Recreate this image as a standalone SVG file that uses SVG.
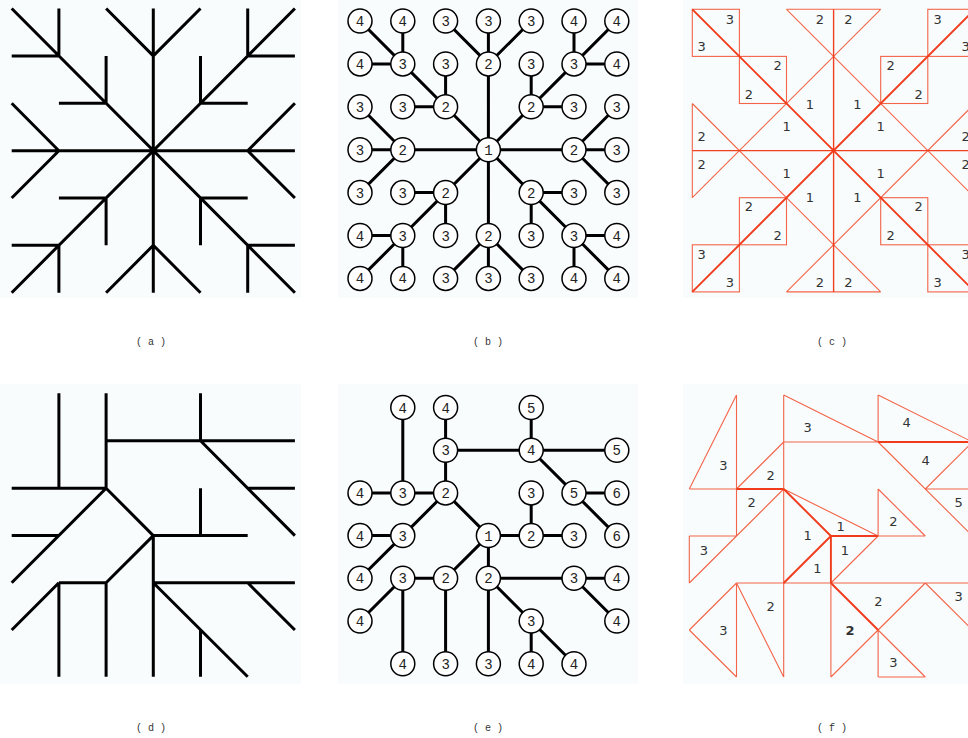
<svg xmlns="http://www.w3.org/2000/svg" width="968" height="738" viewBox="0 0 968 738">
<style>
.bg{fill:#f8fcfd}
.k{stroke:#000;stroke-width:3;fill:none;stroke-linecap:butt}
.n circle{fill:#fff;stroke:#000;stroke-width:1.5}
.n text{font-family:"Liberation Mono","DejaVu Sans Mono",monospace;font-size:14px;text-anchor:middle;fill:#222}
.t{stroke:#f03c1c;stroke-width:1.9;fill:none}
.m{stroke:#f0401f;stroke-width:1.4;fill:none}
.h{stroke:#f36448;stroke-width:1.1;fill:none}
.lb text{font-family:"DejaVu Sans","Liberation Sans",sans-serif;font-size:13px;text-anchor:middle;fill:#333}
.cap{font-family:"Liberation Mono","DejaVu Sans Mono",monospace;font-size:10px;text-anchor:middle;fill:#333}
</style>
<rect width="968" height="738" fill="#fff"/>
<rect class="bg" x="0" y="0" width="301" height="298"/>
<rect class="bg" x="338" y="0" width="300" height="298"/>
<rect class="bg" x="683" y="0" width="285" height="298"/>
<rect class="bg" x="0" y="384" width="301" height="300"/>
<rect class="bg" x="338" y="384" width="300" height="300"/>
<rect class="bg" x="683" y="384" width="285" height="300"/>

<g id="panel-a-connectors" class="k">
<path d="M11.7,8.5L294.9,292.7M294.9,8.5L11.7,292.7M153.3,8.5V292.7M11.7,150.7H294.9
M58.9,8.5V55.9M11.7,55.9H58.9M106.1,55.9V103.3M58.9,103.3H106.1
M106.1,8.5L153.3,55.9M200.5,8.5L153.3,55.9
M247.7,8.5V55.9M247.7,55.9H294.9M200.5,55.9V103.3M200.5,103.3H247.7
M11.7,103.3L58.9,150.7M11.7,198L58.9,150.7
M294.9,103.3L247.7,150.7M294.9,198L247.7,150.7
M58.9,198H106.1M106.1,198V245.3M11.7,245.3H58.9M58.9,245.3V292.7
M106.1,292.7L153.3,245.3M200.5,292.7L153.3,245.3
M200.5,198H247.7M200.5,198V245.3M247.7,245.3H294.9M247.7,245.3V292.7"/>
</g>

<g id="panel-b-connectors" class="k">
<path d="M360,21L402.8,63.9M402.8,21V63.9M360,63.9H402.8M402.8,63.9L445.6,106.8M445.6,63.9V106.8M402.8,106.8H445.6M445.6,106.8L488.4,149.7
M445.6,21L488.4,63.9M488.4,21V149.7M531.2,21L488.4,63.9
M574,21V63.9M616.8,21L574,63.9M616.8,63.9H574M574,63.9L531.2,106.8M531.2,63.9V106.8M574,106.8H531.2M531.2,106.8L488.4,149.7
M360,106.8L402.8,149.7M360,149.7H616.8M360,192.6L402.8,149.7
M616.8,106.8L574,149.7M616.8,192.6L574,149.7
M402.8,192.6H445.6M445.6,192.6V235.5M445.6,192.6L402.8,235.5M360,235.5H402.8M402.8,235.5V278.4M402.8,235.5L360,278.4M445.6,192.6L488.4,149.7
M488.4,149.7V278.4M488.4,235.5L445.6,278.4M488.4,235.5L531.2,278.4
M488.4,149.7L531.2,192.6M531.2,192.6H574M531.2,192.6V235.5M531.2,192.6L574,235.5M574,235.5H616.8M574,235.5V278.4M574,235.5L616.8,278.4"/>
</g>
<g id="panel-b-nodes" class="n">
<g id="b00"><circle cx="360" cy="21" r="12"/><text x="360" y="26">4</text></g>
<g id="b10"><circle cx="402.8" cy="21" r="12"/><text x="402.8" y="26">4</text></g>
<g id="b20"><circle cx="445.6" cy="21" r="12"/><text x="445.6" y="26">3</text></g>
<g id="b30"><circle cx="488.4" cy="21" r="12"/><text x="488.4" y="26">3</text></g>
<g id="b40"><circle cx="531.2" cy="21" r="12"/><text x="531.2" y="26">3</text></g>
<g id="b50"><circle cx="574" cy="21" r="12"/><text x="574" y="26">4</text></g>
<g id="b60"><circle cx="616.8" cy="21" r="12"/><text x="616.8" y="26">4</text></g>
<g id="b01"><circle cx="360" cy="63.9" r="12"/><text x="360" y="68.9">4</text></g>
<g id="b11"><circle cx="402.8" cy="63.9" r="12"/><text x="402.8" y="68.9">3</text></g>
<g id="b21"><circle cx="445.6" cy="63.9" r="12"/><text x="445.6" y="68.9">3</text></g>
<g id="b31"><circle cx="488.4" cy="63.9" r="12"/><text x="488.4" y="68.9">2</text></g>
<g id="b41"><circle cx="531.2" cy="63.9" r="12"/><text x="531.2" y="68.9">3</text></g>
<g id="b51"><circle cx="574" cy="63.9" r="12"/><text x="574" y="68.9">3</text></g>
<g id="b61"><circle cx="616.8" cy="63.9" r="12"/><text x="616.8" y="68.9">4</text></g>
<g id="b02"><circle cx="360" cy="106.8" r="12"/><text x="360" y="111.8">3</text></g>
<g id="b12"><circle cx="402.8" cy="106.8" r="12"/><text x="402.8" y="111.8">3</text></g>
<g id="b22"><circle cx="445.6" cy="106.8" r="12"/><text x="445.6" y="111.8">2</text></g>
<g id="b42"><circle cx="531.2" cy="106.8" r="12"/><text x="531.2" y="111.8">2</text></g>
<g id="b52"><circle cx="574" cy="106.8" r="12"/><text x="574" y="111.8">3</text></g>
<g id="b62"><circle cx="616.8" cy="106.8" r="12"/><text x="616.8" y="111.8">3</text></g>
<g id="b03"><circle cx="360" cy="149.7" r="12"/><text x="360" y="154.7">3</text></g>
<g id="b13"><circle cx="402.8" cy="149.7" r="12"/><text x="402.8" y="154.7">2</text></g>
<g id="b33"><circle cx="488.4" cy="149.7" r="12"/><text x="488.4" y="154.7">1</text></g>
<g id="b53"><circle cx="574" cy="149.7" r="12"/><text x="574" y="154.7">2</text></g>
<g id="b63"><circle cx="616.8" cy="149.7" r="12"/><text x="616.8" y="154.7">3</text></g>
<g id="b04"><circle cx="360" cy="192.6" r="12"/><text x="360" y="197.6">3</text></g>
<g id="b14"><circle cx="402.8" cy="192.6" r="12"/><text x="402.8" y="197.6">3</text></g>
<g id="b24"><circle cx="445.6" cy="192.6" r="12"/><text x="445.6" y="197.6">2</text></g>
<g id="b44"><circle cx="531.2" cy="192.6" r="12"/><text x="531.2" y="197.6">2</text></g>
<g id="b54"><circle cx="574" cy="192.6" r="12"/><text x="574" y="197.6">3</text></g>
<g id="b64"><circle cx="616.8" cy="192.6" r="12"/><text x="616.8" y="197.6">3</text></g>
<g id="b05"><circle cx="360" cy="235.5" r="12"/><text x="360" y="240.5">4</text></g>
<g id="b15"><circle cx="402.8" cy="235.5" r="12"/><text x="402.8" y="240.5">3</text></g>
<g id="b25"><circle cx="445.6" cy="235.5" r="12"/><text x="445.6" y="240.5">3</text></g>
<g id="b35"><circle cx="488.4" cy="235.5" r="12"/><text x="488.4" y="240.5">2</text></g>
<g id="b45"><circle cx="531.2" cy="235.5" r="12"/><text x="531.2" y="240.5">3</text></g>
<g id="b55"><circle cx="574" cy="235.5" r="12"/><text x="574" y="240.5">3</text></g>
<g id="b65"><circle cx="616.8" cy="235.5" r="12"/><text x="616.8" y="240.5">4</text></g>
<g id="b06"><circle cx="360" cy="278.4" r="12"/><text x="360" y="283.4">4</text></g>
<g id="b16"><circle cx="402.8" cy="278.4" r="12"/><text x="402.8" y="283.4">4</text></g>
<g id="b26"><circle cx="445.6" cy="278.4" r="12"/><text x="445.6" y="283.4">3</text></g>
<g id="b36"><circle cx="488.4" cy="278.4" r="12"/><text x="488.4" y="283.4">3</text></g>
<g id="b46"><circle cx="531.2" cy="278.4" r="12"/><text x="531.2" y="283.4">3</text></g>
<g id="b56"><circle cx="574" cy="278.4" r="12"/><text x="574" y="283.4">4</text></g>
<g id="b66"><circle cx="616.8" cy="278.4" r="12"/><text x="616.8" y="283.4">4</text></g>
</g>

<g id="panel-c">
<path class="h" d="M692.3,197.7L880.7,9.3M786.5,9.3L974.9,197.7M692.3,103.5L880.7,291.9M786.5,291.9L974.9,103.5
M786.5,9.3H880.7M786.5,291.9H880.7M692.3,103.5V197.7M974.9,103.5V197.7"/>
<g class="h">
<rect x="692.3" y="9.3" width="47.1" height="47.1"/>
<rect x="739.4" y="56.4" width="47.1" height="47.1"/>
<rect x="880.7" y="56.4" width="47.1" height="47.1"/>
<rect x="927.8" y="9.3" width="47.1" height="47.1"/>
<rect x="739.4" y="197.7" width="47.1" height="47.1"/>
<rect x="692.3" y="244.8" width="47.1" height="47.1"/>
<rect x="880.7" y="197.7" width="47.1" height="47.1"/>
<rect x="927.8" y="244.8" width="47.1" height="47.1"/>
</g>
<path class="m" d="M692.3,150.6H974.9M833.6,9.3V291.9"/>
<path class="t" d="M692.3,9.3L974.9,291.9M974.9,9.3L692.3,291.9"/>
<g class="lb">
<text x="730" y="23.5">3</text><text x="701.7" y="51.2">3</text>
<text x="777.7" y="70.2">2</text><text x="749" y="98.5">2</text>
<text x="820" y="23.5">2</text><text x="848.3" y="23.5">2</text>
<text x="890.7" y="70.2">2</text><text x="918.7" y="98.5">2</text>
<text x="937.7" y="23.5">3</text><text x="965.7" y="51.2">3</text>
<text x="810" y="108.5">1</text><text x="857.3" y="108.5">1</text>
<text x="786.7" y="131.2">1</text><text x="880.7" y="131.2">1</text>
<text x="701.7" y="140.5">2</text><text x="701.7" y="168.8">2</text>
<text x="965.7" y="140.5">2</text><text x="965.7" y="168.8">2</text>
<text x="786.7" y="177.8">1</text><text x="880.7" y="177.8">1</text>
<text x="810" y="202.2">1</text><text x="857.3" y="202.2">1</text>
<text x="749" y="211.2">2</text><text x="777.7" y="239.8">2</text>
<text x="918.7" y="211.2">2</text><text x="890.7" y="239.8">2</text>
<text x="701.7" y="258.5">3</text><text x="730" y="287.2">3</text>
<text x="820" y="287.2">2</text><text x="848.3" y="287.2">2</text>
<text x="937.7" y="287.2">3</text><text x="965.7" y="258.5">3</text>
</g>
</g>

<g id="panel-d-connectors" class="k">
<path d="M58.9,393.3V488.2M106.1,393.3V488.2M200.5,393.3V440.8M106.1,440.8H294.9M200.5,440.8L294.9,535.6M247.7,488.2H294.9
M11.7,488.2H106.1M106.1,488.2L11.7,582.8M106.1,488.2L153.3,535.6M11.7,535.6H58.9M153.3,535.6H247.7M200.5,488.2V535.6
M153.3,535.6L106.1,582.8M58.9,582.8H106.1M58.9,582.8L11.7,630M58.9,582.8V676.8M106.1,582.8V676.8
M153.3,535.6V676.8M153.3,582.8H294.9M247.7,582.8L294.9,630M153.3,582.8L247.7,676.8M200.5,630V676.8"/>
</g>

<g id="panel-e-connectors" class="k">
<path d="M402.8,407.5V492.9M445.6,407.5V492.9M445.6,450.2H616.8M531.2,407.5V450.2M531.2,450.2L574,492.9M574,492.9H616.8M574,492.9L616.8,535.6
M360,492.9H445.6M445.6,492.9L402.8,535.6M445.6,492.9L488.4,535.6M360,535.6H402.8M402.8,535.6L360,578.3
M488.4,535.6H574M531.2,492.9V535.6M488.4,535.6L445.6,578.3M445.6,578.3H402.8M402.8,578.3L360,621M402.8,578.3V663.7M445.6,578.3V663.7
M488.4,535.6V663.7M488.4,578.3H616.8M574,578.3L616.8,621M488.4,578.3L531.2,621M531.2,621V663.7M531.2,621L574,663.7"/>
</g>
<g id="panel-e-nodes" class="n">
<g id="e10"><circle cx="402.8" cy="407.5" r="12"/><text x="402.8" y="412.5">4</text></g>
<g id="e20"><circle cx="445.6" cy="407.5" r="12"/><text x="445.6" y="412.5">4</text></g>
<g id="e40"><circle cx="531.2" cy="407.5" r="12"/><text x="531.2" y="412.5">5</text></g>
<g id="e21"><circle cx="445.6" cy="450.2" r="12"/><text x="445.6" y="455.2">3</text></g>
<g id="e41"><circle cx="531.2" cy="450.2" r="12"/><text x="531.2" y="455.2">4</text></g>
<g id="e61"><circle cx="616.8" cy="450.2" r="12"/><text x="616.8" y="455.2">5</text></g>
<g id="e02"><circle cx="360" cy="492.9" r="12"/><text x="360" y="497.9">4</text></g>
<g id="e12"><circle cx="402.8" cy="492.9" r="12"/><text x="402.8" y="497.9">3</text></g>
<g id="e22"><circle cx="445.6" cy="492.9" r="12"/><text x="445.6" y="497.9">2</text></g>
<g id="e42"><circle cx="531.2" cy="492.9" r="12"/><text x="531.2" y="497.9">3</text></g>
<g id="e52"><circle cx="574" cy="492.9" r="12"/><text x="574" y="497.9">5</text></g>
<g id="e62"><circle cx="616.8" cy="492.9" r="12"/><text x="616.8" y="497.9">6</text></g>
<g id="e03"><circle cx="360" cy="535.6" r="12"/><text x="360" y="540.6">4</text></g>
<g id="e13"><circle cx="402.8" cy="535.6" r="12"/><text x="402.8" y="540.6">3</text></g>
<g id="e33"><circle cx="488.4" cy="535.6" r="12"/><text x="488.4" y="540.6">1</text></g>
<g id="e43"><circle cx="531.2" cy="535.6" r="12"/><text x="531.2" y="540.6">2</text></g>
<g id="e53"><circle cx="574" cy="535.6" r="12"/><text x="574" y="540.6">3</text></g>
<g id="e63"><circle cx="616.8" cy="535.6" r="12"/><text x="616.8" y="540.6">6</text></g>
<g id="e04"><circle cx="360" cy="578.3" r="12"/><text x="360" y="583.3">4</text></g>
<g id="e14"><circle cx="402.8" cy="578.3" r="12"/><text x="402.8" y="583.3">3</text></g>
<g id="e24"><circle cx="445.6" cy="578.3" r="12"/><text x="445.6" y="583.3">2</text></g>
<g id="e34"><circle cx="488.4" cy="578.3" r="12"/><text x="488.4" y="583.3">2</text></g>
<g id="e54"><circle cx="574" cy="578.3" r="12"/><text x="574" y="583.3">3</text></g>
<g id="e64"><circle cx="616.8" cy="578.3" r="12"/><text x="616.8" y="583.3">4</text></g>
<g id="e05"><circle cx="360" cy="621" r="12"/><text x="360" y="626">4</text></g>
<g id="e45"><circle cx="531.2" cy="621" r="12"/><text x="531.2" y="626">3</text></g>
<g id="e65"><circle cx="616.8" cy="621" r="12"/><text x="616.8" y="626">4</text></g>
<g id="e16"><circle cx="402.8" cy="663.7" r="12"/><text x="402.8" y="668.7">4</text></g>
<g id="e26"><circle cx="445.6" cy="663.7" r="12"/><text x="445.6" y="668.7">3</text></g>
<g id="e36"><circle cx="488.4" cy="663.7" r="12"/><text x="488.4" y="668.7">3</text></g>
<g id="e46"><circle cx="531.2" cy="663.7" r="12"/><text x="531.2" y="668.7">4</text></g>
<g id="e56"><circle cx="574" cy="663.7" r="12"/><text x="574" y="668.7">4</text></g>
</g>

<g id="panel-f">
<path class="h" d="M736.5,395L689.3,489M736.5,395V536M689.3,489H736.5M783.7,395L878.1,442M783.7,395V677M783.7,442H878.1
M878.1,395V442M878.1,395L972.5,442M878.1,442L972.5,536M925.3,489L972.5,442M925.3,489H972.5
M783.7,442L736.5,489M783.7,489L736.5,536M689.3,536H736.5M736.5,536L689.3,583M689.3,536V583
M783.7,489L878.1,536M878.1,536L830.9,583M878.1,489V536M878.1,489L925.3,536M878.1,536H925.3
M736.5,583H972.5M736.5,583L689.3,630M689.3,630L736.5,677M736.5,583V677M736.5,583L783.7,677
M830.9,583V677M830.9,677L878.1,630M878.1,630L925.3,583M925.3,583L972.5,630M878.1,630V677M878.1,677H925.3M878.1,630L925.3,677"/>
<path class="t" d="M736.5,489H783.7M783.7,489L830.9,536M830.9,536H878.1M830.9,536L783.7,583M830.9,536V583M830.9,583L878.1,630M878.1,442H972.5"/>
<g class="lb">
<text x="723.3" y="469.5">3</text>
<text x="807.7" y="432.2">3</text>
<text x="906.7" y="427.2">4</text>
<text x="925.7" y="465.2">4</text>
<text x="958.7" y="507.2">5</text>
<text x="770.7" y="479.5">2</text>
<text x="751.7" y="507.2">2</text>
<text x="704" y="554.5">3</text>
<text x="840.7" y="531.2">1</text>
<text x="807.7" y="540.2">1</text>
<text x="817.3" y="573.2">1</text>
<text x="845" y="554.5">1</text>
<text x="893.3" y="526.2">2</text>
<text x="723.3" y="634.5">3</text>
<text x="770.7" y="611.2">2</text>
<text x="850" y="634.5" font-weight="bold">2</text>
<text x="878.3" y="606.2">2</text>
<text x="958.7" y="601.2">3</text>
<text x="893.3" y="667.2">3</text>
</g>
</g>

<g id="captions">
<text class="cap" x="151" y="345">( a )</text>
<text class="cap" x="488" y="345">( b )</text>
<text class="cap" x="832" y="345">( c )</text>
<text class="cap" x="151" y="731">( d )</text>
<text class="cap" x="488" y="731">( e )</text>
<text class="cap" x="832" y="731">( f )</text>
</g>
</svg>
